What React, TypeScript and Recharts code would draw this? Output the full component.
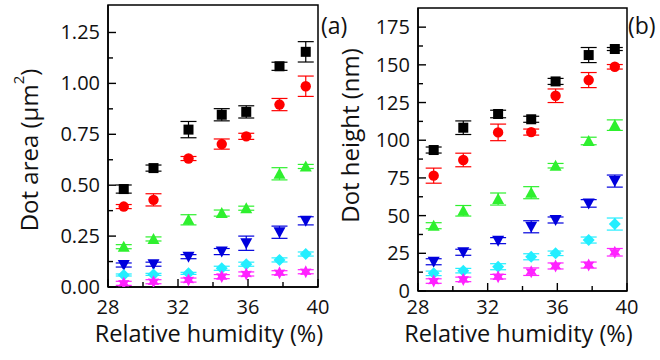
import React from "react";
import { ScatterChart, Scatter, XAxis, YAxis, ErrorBar, ReferenceArea, Label } from "recharts";

// relative humidity (%) – same for both panels
const humidity = [28.9, 30.6, 32.6, 34.5, 35.9, 37.8, 39.3];
const xTicks = [28, 30, 32, 34, 36, 38, 40];

// (a) dot area, µm²
const areaSquare = [0.481, 0.584, 0.773, 0.846, 0.86, 1.084, 1.155];
const areaSquareErr = [0.02, 0.015, 0.04, 0.03, 0.03, 0.02, 0.05];
const areaCircle = [0.395, 0.428, 0.631, 0.702, 0.74, 0.896, 0.986];
const areaCircleErr = [0.01, 0.03, 0.01, 0.025, 0.015, 0.03, 0.05];
const areaTriangle = [0.198, 0.236, 0.33, 0.363, 0.387, 0.556, 0.592];
const areaTriangleErr = [0.01, 0.01, 0.025, 0.015, 0.01, 0.03, 0.01];
const areaDown = [0.108, 0.112, 0.149, 0.174, 0.215, 0.269, 0.325];
const areaDownErr = [0.01, 0.01, 0.01, 0.015, 0.035, 0.03, 0.02];
const areaDiamond = [0.059, 0.062, 0.067, 0.092, 0.112, 0.133, 0.162];
const areaDiamondErr = [0.005, 0.005, 0.005, 0.01, 0.01, 0.01, 0.01];
const areaStar = [0.018, 0.026, 0.034, 0.051, 0.064, 0.07, 0.075];
const areaStarErr = [0.01, 0.01, 0.01, 0.01, 0.01, 0.01, 0.01];
const areaTicks = [0, 0.125, 0.25, 0.375, 0.5, 0.625, 0.75, 0.875, 1, 1.125, 1.25];

// (b) dot height, nm
const heightSquare = [93.5, 108.3, 117.4, 113.9, 139, 156.5, 160.5];
const heightSquareErr = [2, 4.5, 2.5, 2, 2, 5, 1];
const heightCircle = [76.5, 86.9, 105.2, 105.4, 129.5, 139.9, 148.7];
const heightCircleErr = [5, 4.5, 5.5, 2, 4.5, 5, 1.5];
const heightTriangle = [43.3, 53.2, 61, 65.2, 83.1, 99.5, 110];
const heightTriangleErr = [2, 3.5, 4, 4, 1.5, 2.5, 3.5];
const heightDown = [19.4, 25.7, 33.4, 42.6, 47.1, 58.1, 72.9];
const heightDownErr = [2, 2, 2, 4, 2, 2.5, 4];
const heightDiamond = [11.7, 13.5, 16.1, 22.7, 25, 33.8, 44.4];
const heightDiamondErr = [1.5, 1.5, 2, 2, 1.5, 2, 4];
const heightStar = [6.6, 7.7, 9.5, 12.8, 16.6, 17.2, 25.7];
const heightStarErr = [1.5, 1.5, 1.5, 2.5, 2, 2, 2.5];
const heightTicks = [0, 12.5, 25, 37.5, 50, 62.5, 75, 87.5, 100, 112.5, 125, 137.5, 150, 162.5, 175];

const FONT = "'Open Sans', 'DejaVu Sans', sans-serif";

type Kind = "square" | "circle" | "triangle" | "down" | "diamond" | "star";

const marks: { kind: Kind; color: string }[] = [
  { kind: "square", color: "#000000" },
  { kind: "circle", color: "#ff0000" },
  { kind: "triangle", color: "#2ef02e" },
  { kind: "down", color: "#0000dd" },
  { kind: "diamond", color: "#22eeff" },
  { kind: "star", color: "#ff22ff" },
];

function starPoints(cx: number, cy: number, ro: number, ri: number, n: number) {
  const pts: string[] = [];
  for (let i = 0; i < n * 2; i++) {
    const r = i % 2 === 0 ? ro : ri;
    const a = (Math.PI * i) / n - Math.PI / 2;
    pts.push(`${cx + r * Math.cos(a)},${cy + r * Math.sin(a)}`);
  }
  return pts.join(" ");
}

function marker(kind: Kind, color: string) {
  return (p: any) => {
    const { cx, cy } = p;
    if (cx == null || cy == null) return <g />;
    switch (kind) {
      case "square":
        return <rect x={cx - 5} y={cy - 5} width={10} height={10} fill={color} />;
      case "circle":
        return <circle cx={cx} cy={cy} r={5.2} fill={color} />;
      case "triangle":
        return <polygon points={`${cx - 6},${cy + 5} ${cx + 6},${cy + 5} ${cx},${cy - 6}`} fill={color} />;
      case "down":
        return <polygon points={`${cx - 6},${cy - 5} ${cx + 6},${cy - 5} ${cx},${cy + 6}`} fill={color} />;
      case "diamond":
        return <polygon points={`${cx},${cy - 6} ${cx + 6},${cy} ${cx},${cy + 6} ${cx - 6},${cy}`} fill={color} />;
      default:
        return <polygon points={starPoints(cx, cy, 6.5, 3.5, 6)} fill={color} />;
    }
  };
}

function toRows(vals: number[], errs: number[]) {
  return humidity.map((h, i) => ({ x: h, y: vals[i], err: errs[i] }));
}

function BottomTick(props: any) {
  const { x, y, payload, labelDy } = props;
  const major = payload.value % 4 === 0;
  return (
    <g>
      <line x1={x} x2={x} y1={y} y2={y - (major ? 8 : 5)} stroke="#000" strokeWidth={1.4} />
      {major && (
        <text x={x} y={y + labelDy} textAnchor="middle" fontSize={20} fontFamily={FONT} fill="#111">
          {payload.value}
        </text>
      )}
    </g>
  );
}

function LeftTick(props: any) {
  const { x, y, payload, step, fmt } = props;
  const q = payload.value / step;
  const major = Math.abs(q - Math.round(q)) < 1e-6;
  return (
    <g>
      <line x1={x} x2={x + (major ? 8 : 5)} y1={y} y2={y} stroke="#000" strokeWidth={1.4} />
      {major && (
        <text x={x - 8} y={y + 7} textAnchor="end" fontSize={20} fontFamily={FONT} fill="#111">
          {fmt(payload.value)}
        </text>
      )}
    </g>
  );
}

interface PanelProps {
  series: { vals: number[]; errs: number[] }[];
  yMax: number;
  yTicks: number[];
  yStep: number;
  fmt: (v: number) => string;
  margin: { top: number; right: number; left: number; bottom: number };
  yWidth: number;
  xHeight: number;
  tickDy: number;
  titleDy: number;
  yTitle: React.ReactNode;
  yTitleX: number;
  yTitleShift: number;
}

function Panel(pp: PanelProps) {
  return (
    <ScatterChart width={330} height={360} margin={pp.margin} style={{ fontFamily: FONT }}>
      <XAxis
        type="number"
        dataKey="x"
        domain={[28, 40]}
        ticks={xTicks}
        allowDataOverflow
        height={pp.xHeight}
        tickSize={0}
        tickMargin={0}
        tickLine={false}
        axisLine={{ stroke: "#000", strokeWidth: 1.5 }}
        tick={<BottomTick labelDy={pp.tickDy} />}
        interval={0}
      >
        <Label
          content={(p: any) => {
            const vb = p.viewBox;
            return (
              <text x={vb.x + vb.width / 2 - 4} y={vb.y + pp.titleDy} textAnchor="middle" fontSize={23.5} fontFamily={FONT} fill="#111">
                Relative humidity (%)
              </text>
            );
          }}
        />
      </XAxis>
      <YAxis
        type="number"
        dataKey="y"
        domain={[0, pp.yMax]}
        ticks={pp.yTicks}
        allowDataOverflow
        width={pp.yWidth}
        tickSize={0}
        tickMargin={0}
        tickLine={false}
        axisLine={{ stroke: "#000", strokeWidth: 1.5 }}
        tick={<LeftTick step={pp.yStep} fmt={pp.fmt} />}
        interval={0}
      >
        <Label
          content={(p: any) => {
            const vb = p.viewBox;
            const cx = vb.x + pp.yTitleX;
            const cy = vb.y + vb.height / 2 + pp.yTitleShift;
            return (
              <text transform={`translate(${cx},${cy}) rotate(-90)`} textAnchor="middle" fontSize={24} fontFamily={FONT} fill="#111" dominantBaseline="central">
                {pp.yTitle}
              </text>
            );
          }}
        />
      </YAxis>
      <ReferenceArea x1={28} x2={40} y1={0} y2={pp.yMax} fill="none" stroke="#000" strokeWidth={1.5} ifOverflow="visible" />
      {pp.series.map((s, i) => (
        <Scatter
          key={i}
          data={toRows(s.vals, s.errs)}
          shape={marker(marks[i].kind, marks[i].color)}
          isAnimationActive={false}
        >
          <ErrorBar dataKey="err" direction="y" width={8} stroke={marks[i].color} strokeWidth={1.2} isAnimationActive={false} />
        </Scatter>
      ))}
    </ScatterChart>
  );
}

export default function App() {
  const areaSeries = [
    { vals: areaSquare, errs: areaSquareErr },
    { vals: areaCircle, errs: areaCircleErr },
    { vals: areaTriangle, errs: areaTriangleErr },
    { vals: areaDown, errs: areaDownErr },
    { vals: areaDiamond, errs: areaDiamondErr },
    { vals: areaStar, errs: areaStarErr },
  ];
  const heightSeries = [
    { vals: heightSquare, errs: heightSquareErr },
    { vals: heightCircle, errs: heightCircleErr },
    { vals: heightTriangle, errs: heightTriangleErr },
    { vals: heightDown, errs: heightDownErr },
    { vals: heightDiamond, errs: heightDiamondErr },
    { vals: heightStar, errs: heightStarErr },
  ];
  return (
    <div style={{ position: "absolute", left: 0, top: 0, width: 660, height: 360, background: "#fff", fontFamily: FONT }}>
      <div style={{ position: "absolute", left: 0, top: 0 }}>
        <Panel
          series={areaSeries}
          yMax={1.385}
          yTicks={areaTicks}
          yStep={0.25}
          fmt={(v) => v.toFixed(2)}
          margin={{ top: 5, right: 12, left: 0, bottom: 0 }}
          yWidth={108}
          xHeight={73}
          tickDy={27}
          titleDy={55}
          yTitle={
            <>
              Dot area (μm<tspan dy={-10} fontSize={15}>2</tspan>
              <tspan dy={10}>)</tspan>
            </>
          }
          yTitleX={28}
          yTitleShift={4}
        />
      </div>
      <div style={{ position: "absolute", left: 330, top: 0 }}>
        <Panel
          series={heightSeries}
          yMax={187.7}
          yTicks={heightTicks}
          yStep={25}
          fmt={(v) => String(v)}
          margin={{ top: 8, right: 33, left: 0, bottom: 0 }}
          yWidth={88}
          xHeight={69}
          tickDy={23}
          titleDy={51}
          yTitle="Dot height (nm)"
          yTitleX={19}
          yTitleShift={-14}
        />
      </div>
      <div style={{ position: "absolute", left: 321, top: 11, fontSize: 23, lineHeight: "28px", color: "#111" }}>(a)</div>
      <div style={{ position: "absolute", left: 628, top: 11, fontSize: 23, lineHeight: "28px", color: "#111" }}>(b)</div>
    </div>
  );
}
